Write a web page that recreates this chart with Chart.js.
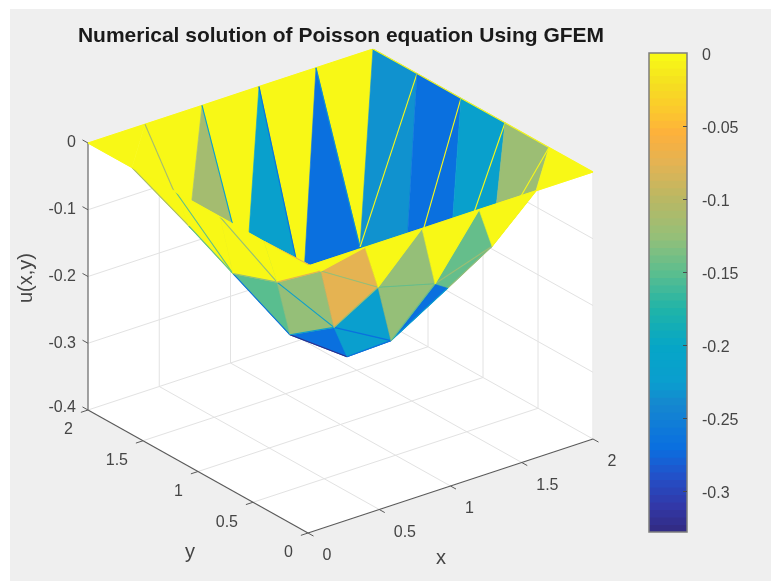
<!DOCTYPE html>
<html>
<head>
<meta charset="utf-8">
<title>Numerical solution of Poisson equation Using GFEM</title>
<script src="https://cdn.jsdelivr.net/npm/chart.js@4"></script>
<style>
  html, body { margin: 0; padding: 0; background: #fff; overflow: hidden; }
  #figure { position: absolute; left: 10px; top: 9px; width: 761px; height: 572px; background: #efefef; }
  #surface { position: absolute; left: 0; top: 0; width: 682px; height: 581px; }
  #colorbar { position: absolute; left: 640px; top: 0; width: 131px; height: 581px; }
  canvas { filter: blur(0.4px); }
</style>
</head>
<body>
<div id="figure"></div>
<div id="surface"><canvas id="surfaceChart"></canvas></div>
<div id="colorbar"><canvas id="colorbarChart"></canvas></div>
<script>
// mesh nodes and solution
const nodeX = [0, 0.4, 0.8, 1.2, 1.6, 2];
const nodeY = [0, 0.4, 0.8, 1.2, 1.6, 2];
const uRow0 = [0, 0, 0, 0, 0, 0];
const uRow1 = [0, -0.0725, -0.125, -0.148, -0.12, 0];
const uRow2 = [0, -0.126, -0.222, -0.27, -0.219, 0];
const uRow3 = [0, -0.15, -0.27, -0.331, -0.27, 0];
const uRow4 = [0, -0.116, -0.22, -0.27, -0.232, 0];
const uRow5 = [0, 0, 0, 0, 0, 0];
const uRows = [uRow0, uRow1, uRow2, uRow3, uRow4, uRow5];

const xTicks = [0, 0.5, 1, 1.5, 2];
const yTicks = [0, 0.5, 1, 1.5, 2];
const zTicks = [-0.4, -0.3, -0.2, -0.1, 0];
const colorbarTicks = [0, -0.05, -0.1, -0.15, -0.2, -0.25, -0.3];
const colorMin = -0.328;
const colorMax = 0;

// colormap as seen in the colorbar, top to bottom
const mapValues = [0, -0.02, -0.04, -0.055, -0.075, -0.1, -0.125, -0.15, -0.175, -0.2, -0.225, -0.24, -0.27, -0.29, -0.31, -0.328];
const mapColors = ['#f9fb15', '#f5e020', '#fcc72e', '#fdb03c', '#e4b353', '#b9b864', '#96bf78', '#5cbe8e', '#20b4a8', '#06a6c6', '#0a9ecf', '#1588cf', '#0a6fe0', '#2350c8', '#3238a8', '#322a80'];
const bandCount = 64;

const font = '"Liberation Sans", Helvetica, Arial, sans-serif';
const textColor = '#454545';

function hexToRgb(hex) {
  return [1, 3, 5].map(p => parseInt(hex.substr(p, 2), 16));
}

function colorAt(value) {
  const v = Math.max(colorMin, Math.min(colorMax, value));
  for (let k = 0; k < mapValues.length - 1; k++) {
    if (v <= mapValues[k] && v >= mapValues[k + 1]) {
      const t = (mapValues[k] - v) / (mapValues[k] - mapValues[k + 1]);
      const a = hexToRgb(mapColors[k]);
      const b = hexToRgb(mapColors[k + 1]);
      return 'rgb(' + a.map((c, n) => Math.round(c + (b[n] - c) * t)).join(',') + ')';
    }
  }
  return mapColors[mapColors.length - 1];
}

// flat colour comes from one band of the map, like the figure does
function bandColor(value) {
  const size = (colorMax - colorMin) / bandCount;
  const band = Math.min(bandCount - 1, Math.floor((colorMax - value) / size));
  return colorAt(colorMax - (band + 0.5) * size);
}

// axes projection of the 3D box onto the flat chart scales
function project(x, y, z) {
  return {
    x: 308 + x * 142.5 - y * 110,
    y: 533 - x * 47 - y * 61.5 - (z + 0.4) * 667.5
  };
}

// larger = further from the viewer
function depth(x, y) {
  return x * 110 + y * 142.5;
}

function node(i, j) {
  return project(nodeX[i], nodeY[j], uRows[j][i]);
}

function polygon(points, color) {
  return {
    data: points.concat([points[0]]),
    fill: 'shape',
    backgroundColor: color,
    borderColor: color,
    borderWidth: 0.6,
    showLine: true,
    pointRadius: 0,
    tension: 0
  };
}

function segment(a, b, color, width) {
  return {
    data: [a, b],
    fill: false,
    borderColor: color,
    borderWidth: width,
    showLine: true,
    pointRadius: 0,
    tension: 0
  };
}

// back planes, floor, grid and axis lines
const boxDatasets = [];
boxDatasets.push(polygon([
  project(0, 2, 0), project(2, 2, 0), project(2, 0, 0),
  project(2, 0, -0.4), project(0, 0, -0.4), project(0, 2, -0.4)
], '#ffffff'));

const gridColor = '#e2e2e2';
const axisColor = '#5a5a5a';

xTicks.forEach(t => {
  if (t > 0 && t < 2) {
    boxDatasets.push(segment(project(t, 0, -0.4), project(t, 2, -0.4), gridColor, 1));
    boxDatasets.push(segment(project(t, 2, -0.4), project(t, 2, 0), gridColor, 1));
  }
});
yTicks.forEach(t => {
  if (t > 0 && t < 2) {
    boxDatasets.push(segment(project(0, t, -0.4), project(2, t, -0.4), gridColor, 1));
    boxDatasets.push(segment(project(2, t, -0.4), project(2, t, 0), gridColor, 1));
  }
});
zTicks.forEach(t => {
  if (t > -0.4 && t < 0) {
    boxDatasets.push(segment(project(0, 2, t), project(2, 2, t), gridColor, 1));
    boxDatasets.push(segment(project(2, 2, t), project(2, 0, t), gridColor, 1));
  }
});
boxDatasets.push(segment(project(2, 2, -0.4), project(2, 2, 0), gridColor, 1));
boxDatasets.push(segment(project(2, 0, -0.4), project(2, 0, 0), gridColor, 1));
boxDatasets.push(segment(project(0, 2, -0.4), project(2, 2, -0.4), gridColor, 1));
boxDatasets.push(segment(project(2, 2, -0.4), project(2, 0, -0.4), gridColor, 1));

// surface faces and their edges, painted from the far side to the near side
const pieces = [];
for (let j = 0; j < nodeY.length - 1; j++) {
  for (let i = 0; i < nodeX.length - 1; i++) {
    const x0 = nodeX[i], x1 = nodeX[i + 1], y0 = nodeY[j], y1 = nodeY[j + 1];
    pieces.push({
      key: depth((x0 + 2 * x1) / 3, (2 * y0 + y1) / 3),
      set: polygon([node(i, j), node(i + 1, j), node(i + 1, j + 1)], bandColor(uRows[j][i]))
    });
    pieces.push({
      key: depth((2 * x0 + x1) / 3, (y0 + 2 * y1) / 3),
      set: polygon([node(i, j), node(i, j + 1), node(i + 1, j + 1)], bandColor(uRows[j + 1][i]))
    });
  }
}
for (let j = 0; j < nodeY.length; j++) {
  for (let i = 0; i < nodeX.length - 1; i++) {
    pieces.push({
      key: depth((nodeX[i] + nodeX[i + 1]) / 2, nodeY[j]) - 30,
      set: segment(node(i, j), node(i + 1, j), bandColor(uRows[j][i + 1]), 1.1)
    });
  }
}
for (let i = 0; i < nodeX.length; i++) {
  for (let j = 0; j < nodeY.length - 1; j++) {
    pieces.push({
      key: depth(nodeX[i], (nodeY[j] + nodeY[j + 1]) / 2) - 30,
      set: segment(node(i, j), node(i, j + 1), bandColor(uRows[j][i]), 1.1)
    });
  }
}
pieces.sort((a, b) => b.key - a.key);

// axis lines and tick marks go on the box, under the surface
const axisDatasets = [];
axisDatasets.push(segment(project(0, 2, -0.4), project(0, 0, -0.4), axisColor, 1.2));
axisDatasets.push(segment(project(0, 0, -0.4), project(2, 0, -0.4), axisColor, 1.2));
axisDatasets.push(segment(project(0, 2, -0.4), project(0, 2, 0), '#7a7a7a', 1.4));
xTicks.forEach(t => axisDatasets.push(segment(project(t, 0, -0.4), project(t, -0.05, -0.4), axisColor, 1)));
yTicks.forEach(t => axisDatasets.push(segment(project(0, t, -0.4), project(-0.05, t, -0.4), axisColor, 1)));
zTicks.forEach(t => axisDatasets.push(segment(project(0, 2, t), project(0, 2.05, t), axisColor, 1)));

const surfaceSets = boxDatasets.concat(axisDatasets, pieces.map(p => p.set));
// Chart.js paints the highest order first
surfaceSets.forEach((set, k) => { set.order = surfaceSets.length - k; });

const axisText = {
  id: 'axisText',
  afterDraw(chart) {
    const { ctx, scales } = chart;
    const place = (text, p, dx, dy, align) => {
      ctx.textAlign = align;
      ctx.fillText(text, scales.x.getPixelForValue(p.x) + dx, scales.y.getPixelForValue(p.y) + dy);
    };
    ctx.save();
    ctx.fillStyle = textColor;
    ctx.font = '16px ' + font;
    ctx.textBaseline = 'middle';
    xTicks.forEach(t => place(String(t), project(t, 0, -0.4), 14.5, 23, 'left'));
    yTicks.forEach(t => place(String(t), project(0, t, -0.4), -15, 20, 'right'));
    zTicks.forEach(t => place(String(t), project(0, 2, t), -12, t === -0.4 ? -2 : 0, 'right'));
    ctx.font = '20px ' + font;
    ctx.textAlign = 'center';
    ctx.fillText('x', 441, 558);
    ctx.fillText('y', 190, 552);
    ctx.translate(26, 278);
    ctx.rotate(-Math.PI / 2);
    ctx.fillText('u(x,y)', 0, 0);
    ctx.restore();
  }
};

new Chart(document.getElementById('surfaceChart'), {
  type: 'scatter',
  data: { datasets: surfaceSets },
  plugins: [axisText],
  options: {
    responsive: true,
    maintainAspectRatio: false,
    animation: false,
    layout: { padding: 0 },
    plugins: {
      legend: { display: false },
      tooltip: { enabled: false },
      title: {
        display: true,
        text: 'Numerical solution of Poisson equation Using GFEM',
        color: '#1a1a1a',
        font: { family: font, size: 21, weight: 'bold' },
        padding: { top: 23.5, bottom: 0 }
      }
    },
    scales: {
      x: { type: 'linear', display: false, min: 0, max: 682 },
      y: { type: 'linear', display: false, reverse: true, min: 48.7, max: 581 }
    }
  }
});

// colorbar: one floating bar per band of the map
const bandSets = [];
for (let b = 0; b < bandCount; b++) {
  const size = (colorMax - colorMin) / bandCount;
  const hi = colorMax - b * size;
  bandSets.push({
    data: [[hi - size * 1.02, hi]],
    backgroundColor: colorAt(hi - size / 2),
    borderWidth: 0,
    grouped: false,
    barPercentage: 1,
    categoryPercentage: 1
  });
}

const colorbarFrame = {
  id: 'colorbarFrame',
  afterDraw(chart) {
    const { ctx, chartArea, scales } = chart;
    ctx.save();
    ctx.strokeStyle = '#7d7d7d';
    ctx.lineWidth = 1.5;
    ctx.strokeRect(chartArea.left, chartArea.top, chartArea.right - chartArea.left, chartArea.bottom - chartArea.top);
    ctx.strokeStyle = '#4a4a4a';
    ctx.lineWidth = 1;
    colorbarTicks.forEach(t => {
      const py = Math.round(scales.y.getPixelForValue(t)) + 0.5;
      if (t === 0) return;
      ctx.beginPath();
      ctx.moveTo(chartArea.right - 4, py);
      ctx.lineTo(chartArea.right, py);
      ctx.stroke();
    });
    ctx.restore();
  }
};

new Chart(document.getElementById('colorbarChart'), {
  type: 'bar',
  data: { labels: [''], datasets: bandSets },
  plugins: [colorbarFrame],
  options: {
    responsive: true,
    maintainAspectRatio: false,
    animation: false,
    layout: { padding: { left: 9, top: 53, bottom: 49, right: 0 } },
    plugins: { legend: { display: false }, tooltip: { enabled: false } },
    scales: {
      x: { display: false },
      y: {
        position: 'right',
        min: colorMin,
        max: colorMax,
        grid: { display: false },
        border: { display: false },
        afterBuildTicks(scale) {
          scale.ticks = colorbarTicks.map(v => ({ value: v }));
        },
        afterFit(scale) {
          scale.width = 84;
        },
        ticks: {
          color: textColor,
          padding: 7,
          labelOffset: 2.5,
          font: { family: font, size: 16 },
          callback: v => String(v)
        }
      }
    }
  }
});
</script>
</body>
</html>
